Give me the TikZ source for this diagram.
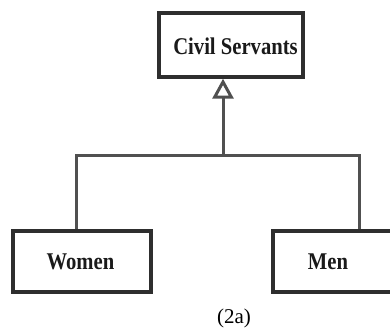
\documentclass[tikz,border=0pt]{standalone}
\usepackage{fontspec}
\setmainfont{Liberation Serif}
\usetikzlibrary{arrows.meta}
\definecolor{boxline}{HTML}{2E2E2E}
\definecolor{linkline}{HTML}{505050}
\definecolor{inktext}{HTML}{1A1A1A}
\newcommand{\classname}[1]{\scalebox{0.86}[1]{\fontsize{24}{27}\selectfont\bfseries #1}}
\tikzset{
  classbox/.style={draw=boxline, line width=3.4pt, fill=white, rectangle,
    inner sep=0pt, text=inktext},
  link/.style={draw=linkline, line width=3pt},
  inherit/.style={link, -{Triangle[open, length=20pt, width=21pt, fill=white]}},
  caption/.style={font=\fontsize{21}{24}\selectfont, text=black}
}
\begin{document}
\begin{tikzpicture}[x=1pt, y=-1pt]
  \useasboundingbox (0,0) rectangle (390,331);

  % parent class
  \node[classbox, minimum width=144pt, minimum height=64pt] (civil) at (231,45) {};
  \node[text=inktext, inner sep=0pt] (civiltext) at (235.5,46) {\classname{Civil Servants}};

  % child classes
  \node[classbox, minimum width=138pt, minimum height=61pt] (women) at (82,261.5) {};
  \node[text=inktext, inner sep=0pt] (womentext) at (80.5,262) {\classname{Women}};
  \node[classbox, minimum width=138pt, minimum height=61pt] (men) at (342,261.5) {};
  \node[text=inktext, inner sep=0pt] (mentext) at (328,262) {\classname{Men}};

  % junction points on the shared bar
  \coordinate (join) at (223,155);
  \coordinate (wj) at (76,155);
  \coordinate (mj) at (359,155);

  % bar and drops to the children
  \draw[link] (women.north -| wj) -- (wj) -- (mj) -- (men.north -| mj);
  % generalisation arrow to the parent
  \draw[inherit] (join) -- (join |- civil.south);

  \node[caption] (cap) at (234,318) {(2a)};
\end{tikzpicture}
\end{document}
